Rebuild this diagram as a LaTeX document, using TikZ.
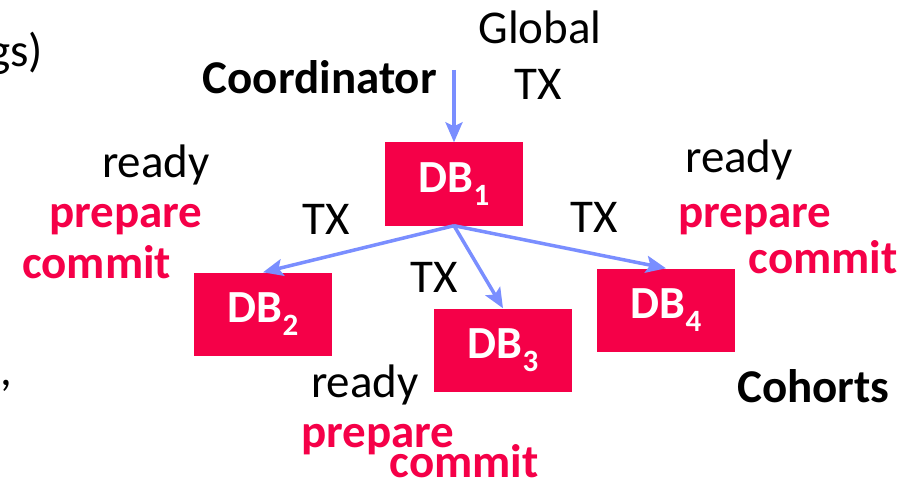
\documentclass[tikz,border=0pt]{standalone}
\usepackage{fontspec}
\setmainfont{Carlito}
\usetikzlibrary{arrows.meta}
\definecolor{dbred}{RGB}{245,0,72}
\definecolor{arrowblue}{RGB}{122,142,255}
\newcommand\dbname[1]{DB\raisebox{-13pt}{\fontsize{31}{31}\selectfont #1}}
\tikzset{
  dbbox/.style={fill=dbred, text=white, font=\fontsize{46}{50}\selectfont\bfseries,
    minimum width=138pt, minimum height=83pt, inner sep=0pt},
  lbl/.style={font=\fontsize{47}{50}\selectfont, text=black, inner sep=0pt},
  blbl/.style={font=\fontsize{47}{50}\selectfont\bfseries, text=black, inner sep=0pt},
  rlbl/.style={font=\fontsize{47}{50}\selectfont\bfseries, text=dbred, inner sep=0pt},
  conn/.style={draw=arrowblue, line width=3.5pt, -{Stealth[length=20pt,width=17pt,inset=4pt]}}
}
\begin{document}
\begin{tikzpicture}[x=1pt,y=-1pt]
\path[use as bounding box] (0,0) rectangle (918,484);
% boxes
\node[dbbox] (db1) at (454,184) {\dbname{1}};
\node[dbbox] (db2) at (263,314) {\dbname{2}};
\node[dbbox] (db3) at (503,350) {\dbname{3}};
\node[dbbox] (db4) at (666,310) {\dbname{4}};
% incoming
\coordinate (gin) at (454,70);
\draw[conn] (gin) -- (db1.north);
\draw[conn] (db1.south) -- (db2.north);
\draw[conn] (db1.south) -- (db3.north);
\draw[conn] (db1.south) -- (db4.north);
% labels
\node[lbl, anchor=base east] (gs) at (43,67) {gs)};
\node[lbl, anchor=base east] (comma) at (12,385) {,};
\node[lbl, anchor=base] (global) at (540,44) {Global};
\node[lbl, anchor=base] (gtx) at (538,100) {TX};
\node[blbl, anchor=base east] (coord) at (437,94) {Coordinator};
\node[lbl, anchor=base] (tx2) at (326,234) {TX};
\node[lbl, anchor=base] (tx3) at (434,292) {TX};
\node[lbl, anchor=base] (tx4) at (594,232) {TX};
% left
\node[lbl, anchor=base west] (r2) at (102,177) {ready};
\node[rlbl, anchor=base west] (p2) at (49,227) {prepare};
\node[rlbl, anchor=base west] (c2) at (22,278) {commit};
% right
\node[lbl, anchor=base west] (r4) at (685,172) {ready};
\node[rlbl, anchor=base west] (p4) at (678,227) {prepare};
\node[rlbl, anchor=base east] (c4) at (898,273) {commit};
% bottom
\node[lbl, anchor=base west] (r3) at (311,397) {ready};
\node[rlbl, anchor=base west] (p3) at (301,447) {prepare};
\node[rlbl, anchor=base east] (c3) at (539,477) {commit};
\node[blbl, anchor=base west] (cohorts) at (737,402) {Cohorts};
\end{tikzpicture}
\end{document}
